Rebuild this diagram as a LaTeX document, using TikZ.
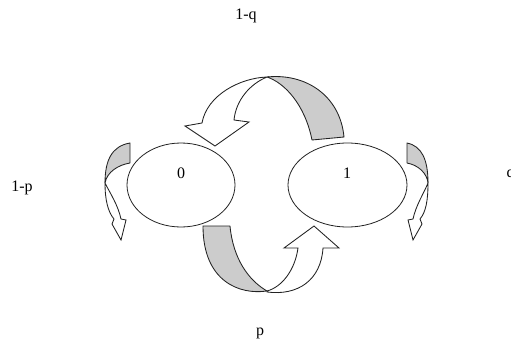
\documentclass[tikz,border=0pt]{standalone}
\usepackage{fontspec}
\setmainfont{Liberation Serif}
\usetikzlibrary{shapes.geometric}
\definecolor{edge}{HTML}{222222}
\definecolor{shade}{HTML}{CCCCCC}
\begin{document}
\begin{tikzpicture}[x=1pt,y=-1pt,
  state/.style={ellipse,draw=edge,line width=0.8pt,inner sep=0pt},
  back/.style={fill=shade,draw=edge,line width=0.85pt,line join=round},
  front/.style={fill=white,draw=edge,line width=0.85pt,line join=miter},
  lbl/.style={font=\fontsize{16}{18}\selectfont,inner sep=0pt,anchor=base}]
\useasboundingbox (0,0) rectangle (511,343);
% states
\node[state,minimum width=108pt,minimum height=84pt] (s0) at (181,185) {};
\node[state,minimum width=119pt,minimum height=84pt] (s1) at (347.5,185) {};
\node[lbl] (l0) at (181,178) {0};
\node[lbl] (l1) at (347,178) {1};
% labels
\node[lbl] (tq) at (246,19) {1-q};
\node[lbl] (tp) at (22,191) {1-p};
\node[lbl] (bp) at (260,335) {p};
\node[lbl,anchor=base west] (rq) at (506.5,177) {q};
% top curved arrow 1 -> 0
\draw[back] (312,140) -- (344,137) .. controls (340,95) and (305,73) .. (267,77)
  .. controls (285,83) and (305,105) .. (312,140) -- cycle;
\draw[front] (267,77) .. controls (240,78) and (207,95) .. (202,123) -- (185,126) -- (215,146)
  -- (249,122) -- (234,120) .. controls (236,100) and (250,84) .. (267,77) -- cycle;
% bottom curved arrow 0 -> 1
\draw[back] (203,226) -- (230,226) .. controls (233,258) and (248,280) .. (267,291)
  .. controls (240,295) and (203,282) .. (203,226) -- cycle;
\draw[front] (267,292) .. controls (298,296) and (321,280) .. (323,248) -- (339,248) -- (314,226)
  -- (284,248) -- (298,248) .. controls (295,270) and (282,287) .. (267,291) -- cycle;
% left self loop
\draw[back] (130,143) -- (130,163) .. controls (118,165) and (107,172) .. (105,183)
  .. controls (105,160) and (112,146) .. (130,143) -- cycle;
\draw[front] (105,183) .. controls (105,200) and (108,212) .. (114,219) -- (112,224) -- (121,240)
  -- (126,220) -- (121,219) .. controls (118,205) and (110,193) .. (105,183) -- cycle;
% right self loop
\draw[back] (407,143) -- (407,163) .. controls (418,165) and (427,173) .. (428,183)
  .. controls (428,160) and (422,146) .. (407,143) -- cycle;
\draw[front] (428,183) .. controls (428,200) and (426,212) .. (420,219) -- (422,224) -- (413,240)
  -- (408,220) -- (413,219) .. controls (416,205) and (424,193) .. (428,183) -- cycle;
\end{tikzpicture}
\end{document}
